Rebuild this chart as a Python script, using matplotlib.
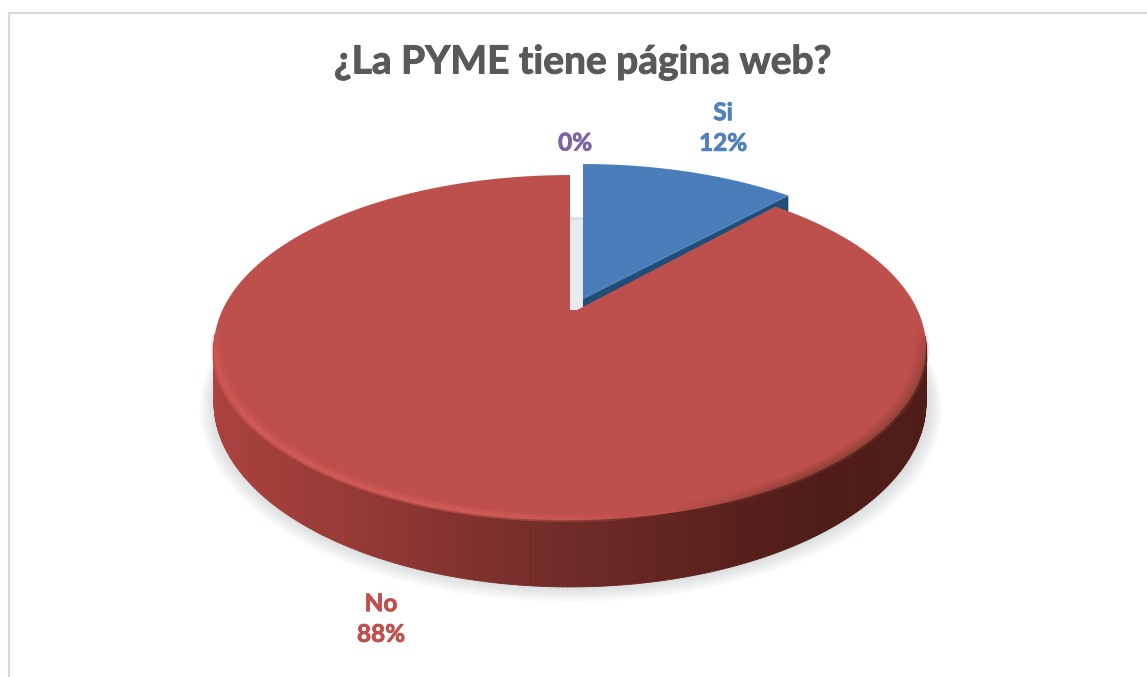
"""3D-look pie: does the PYME have a web page. Drawn in pixel coords, projected by hand."""

import matplotlib

matplotlib.use("Agg")
import matplotlib.patheffects as pe
import matplotlib.pyplot as plt
import numpy as np
from matplotlib.collections import LineCollection, PolyCollection
from matplotlib.colors import to_rgb
from matplotlib.patches import Polygon

TITLE = "¿La PYME tiene página web?"
categories = ["Si", "No", ""]
values = [12, 88, 0]
slice_colors = ["#4a7ebb", "#bd4f4c", "#8064a2"]
label_colors = ["#4f81bd", "#c0504d", "#8064a2"]

W, H = 1147, 677
CX, CY = 570, 310  # apex of the red slice
A, B, K = 347.5, 164.3, 0.2174  # perspective circle
DEPTH = 67.0
BLUE_SHIFT = (13, -11)  # exploded slice
RED_NOTCH = 7  # the red cut edge starts a bit right of the apex
FONT = ["Lato", "DejaVu Sans"]


def project(theta, r=1.0):
    # theta clockwise from the back of the pie
    u = r * np.sin(theta)
    v = -r * np.cos(theta)
    w = 1 - K * v
    return A * u / w, B * v / w, w


def wall_color(u):
    stops_u = [-1.0, -0.5, 0.0, 0.35, 0.6, 1.0]
    stops_c = [to_rgb(c) for c in ("#b0433f", "#963a36", "#702b28", "#5a211d", "#4f1c18", "#4f1c18")]
    return [np.interp(u, stops_u, [c[i] for c in stops_c]) for i in range(3)]


fig = plt.figure(figsize=(W / 100, H / 100), dpi=100)
ax = fig.add_axes([0, 0, 1, 1])
ax.set_xlim(0, W)
ax.set_ylim(H, 0)
ax.axis("off")

# chart frame, runs off the right and bottom of the crop
ax.plot([9, 9, W], [H, 13, 13], color="#d9d9d9", lw=1.5, solid_joinstyle="miter")

fractions = np.cumsum([0] + values) / sum(values) * 2 * np.pi
th_blue = np.linspace(fractions[0], fractions[1], 80)
th_red = np.linspace(fractions[1], fractions[2], 500)

# soft shadow under the disc
th_all = np.linspace(0, 2 * np.pi, 400)
for i in range(9, 0, -1):
    x, y, w = project(th_all, 1 + i * 0.0045)
    d = DEPTH * (1 - K) / w
    ax.add_patch(Polygon(np.c_[CX + x + 1, CY + y + d - 1 + i * 0.5], fc="#7f8a8c", ec="none", alpha=0.03))

# light strip seen through the gap between the slices
ax.fill_between([CX, CX + BLUE_SHIFT[0]], CY - 90, CY, color="#e8eaef", lw=0)

# blue slice
bx, by, bw = project(th_blue)
ox, oy = CX + BLUE_SHIFT[0], CY + BLUE_SHIFT[1]
ax.add_patch(Polygon([(ox, oy), (ox + bx[-1], oy + by[-1]), (ox + bx[-1], oy + by[-1] + 18),
                      (ox, oy + 18)], fc="#1f4e79", ec="none"))
ax.add_patch(Polygon(np.r_[[[ox, oy]], np.c_[ox + bx, oy + by]], fc=slice_colors[0], ec="none"))

# red slice: wall as thin quads shaded by position, then the top face
rx, ry, rw = project(th_red)
rd = DEPTH * (1 - K) / rw
quads, cols = [], []
for i in range(len(th_red) - 1):
    if -np.cos(th_red[i]) < 0.15:
        continue
    quads.append([(CX + rx[i], CY + ry[i]), (CX + rx[i + 1], CY + ry[i + 1]),
                  (CX + rx[i + 1], CY + ry[i + 1] + rd[i + 1]), (CX + rx[i], CY + ry[i] + rd[i])])
    cols.append(wall_color(np.sin(th_red[i])))
ax.add_collection(PolyCollection(quads, facecolors=cols, edgecolors=cols, linewidths=0.6))
ax.add_patch(Polygon(np.r_[[[CX, CY], [CX + RED_NOTCH, CY]], np.c_[CX + rx, CY + ry]],
                     fc=slice_colors[1], ec="none"))

# bevel along the front rim: bright on the left, brownish blur on the right
for r, strength in [(1.004, 0.55), (0.998, 0.7), (0.992, 0.6), (0.986, 0.4), (0.980, 0.22), (0.974, 0.1)]:
    hx, hy, _ = project(th_red, r)
    pts = np.c_[CX + hx, CY + hy]
    segs = np.stack([pts[:-1], pts[1:]], axis=1)
    u = np.sin(th_red[:-1])
    v = -np.cos(th_red[:-1])
    front = np.clip((v - 0.1) / 0.2, 0, 1)
    bright = np.clip((0.25 - u) / 0.45, 0, 1) * front * strength
    dark = np.clip((u - 0.25) / 0.3, 0, 1) * front * strength
    rgba = np.zeros((len(segs), 4))
    rgba[:, :3] = to_rgb("#d8605a")
    rgba[:, 3] = bright
    ax.add_collection(LineCollection(segs, colors=rgba, linewidths=1.6))
    rgba = np.zeros((len(segs), 4))
    rgba[:, :3] = to_rgb("#7c3a2f")
    rgba[:, 3] = dark * 0.8
    ax.add_collection(LineCollection(segs, colors=rgba, linewidths=1.6))

# labels
label_pos = [(723, 128), (381, 619), (575, 143)]
for name, val, col, (lx, ly) in zip(categories, values, label_colors, label_pos):
    txt = f"{name}\n{val}%" if name else f"{val}%"
    ax.text(lx, ly, txt, color=col, fontsize=17.5, fontweight="bold", family=FONT,
            ha="center", va="center", linespacing=1.4, zorder=5,
            path_effects=[pe.withStroke(linewidth=0.6, foreground=col)])

ax.text(583, 62, TITLE, color="#595959", fontsize=28, fontweight="bold", family=FONT,
        ha="center", va="center", zorder=5,
        path_effects=[pe.withStroke(linewidth=0.7, foreground="#595959")])

fig.savefig("out.png", dpi=100, facecolor="white")
